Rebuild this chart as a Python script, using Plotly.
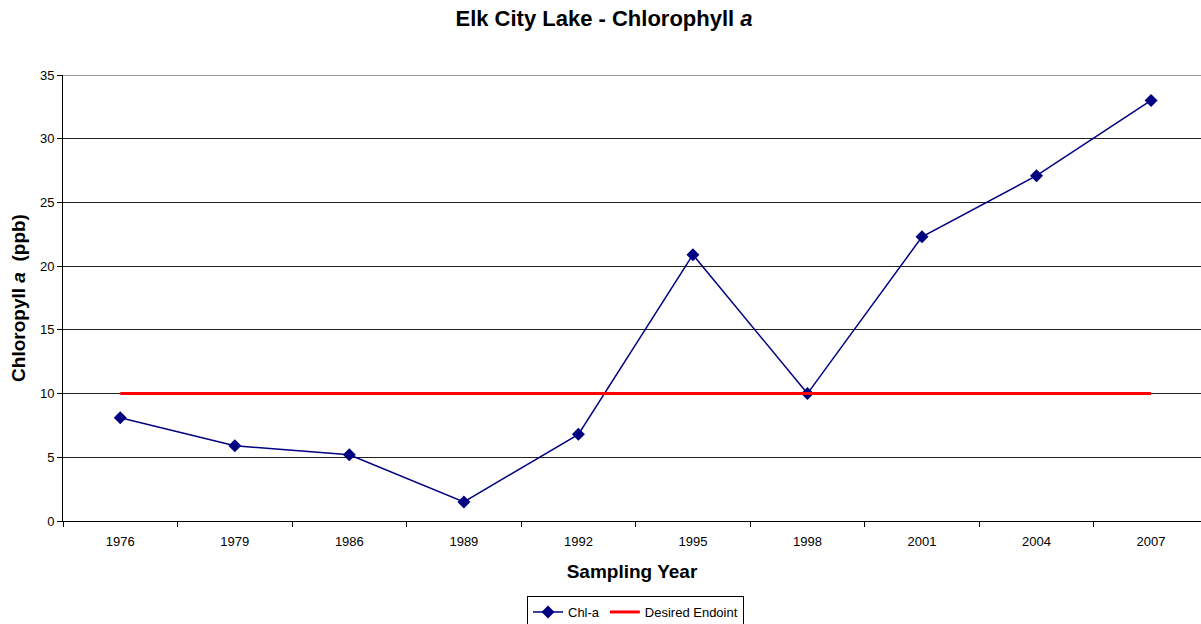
import plotly.graph_objects as go

years = ["1976", "1979", "1986", "1989", "1992", "1995", "1998", "2001", "2004", "2007"]
chl_a = [8.1, 5.9, 5.2, 1.5, 6.8, 20.9, 10.0, 22.3, 27.1, 33.0]
endpoint = [10] * len(years)
y_ticks = [0, 5, 10, 15, 20, 25, 30, 35]

FONT = "Liberation Sans, Arial, sans-serif"

fig = go.Figure()
fig.add_trace(go.Scatter(
    x=years, y=chl_a, name="Chl-a", mode="lines+markers",
    line=dict(color="#000080", width=1.5),
    marker=dict(symbol="diamond", size=10, color="#000080"),
))
fig.add_trace(go.Scatter(
    x=years, y=endpoint, name="Desired Endoint", mode="lines",
    line=dict(color="#ff0000", width=3),
))

fig.update_layout(
    width=1201, height=624,
    margin=dict(l=63, r=0, t=75, b=103, autoexpand=False),
    paper_bgcolor="white", plot_bgcolor="white",
    font=dict(family=FONT, color="black", size=13),
    title=dict(text="<b>Elk City Lake - Chlorophyll <i>a</i></b>",
               x=604 / 1201, xanchor="center", xref="container",
               y=1 - 18 / 624, yanchor="middle", yref="container",
               font=dict(size=22, family=FONT)),
    showlegend=True,
    legend=dict(orientation="h", xref="container", yref="container",
                x=635.5 / 1201, xanchor="center", y=1 - 596 / 624, yanchor="top",
                bordercolor="black", borderwidth=1, font=dict(size=13, family=FONT),
                tracegroupgap=0),
    xaxis=dict(
        type="category", range=[-0.5, 9.436],
        showgrid=False, showline=True, linecolor="black", linewidth=1,
        ticks="outside", tickson="boundaries", ticklen=5, tickcolor="black",
        tickfont=dict(size=13, family=FONT), ticklabelstandoff=8,
        title=dict(text="<b>Sampling Year</b>", font=dict(size=19, family=FONT), standoff=17),
    ),
    yaxis=dict(
        range=[0, 35], tickvals=y_ticks,
        showgrid=True, gridcolor="#222222", gridwidth=1,
        showline=True, linecolor="black", linewidth=1,
        ticks="outside", ticklen=5, tickcolor="black",
        tickfont=dict(size=13, family=FONT),
        zeroline=False,
        title=dict(text="<b>Chloropyll <i>a</i>  (ppb)</b>", font=dict(size=19, family=FONT), standoff=9),
    ),
)
fig.add_shape(type="line", xref="paper", yref="y", x0=0, x1=1, y0=35, y1=35,
              line=dict(color="#999999", width=2))

fig.write_html("out.html", config={"displayModeBar": False},
               post_script="document.body.style.margin='0';")
